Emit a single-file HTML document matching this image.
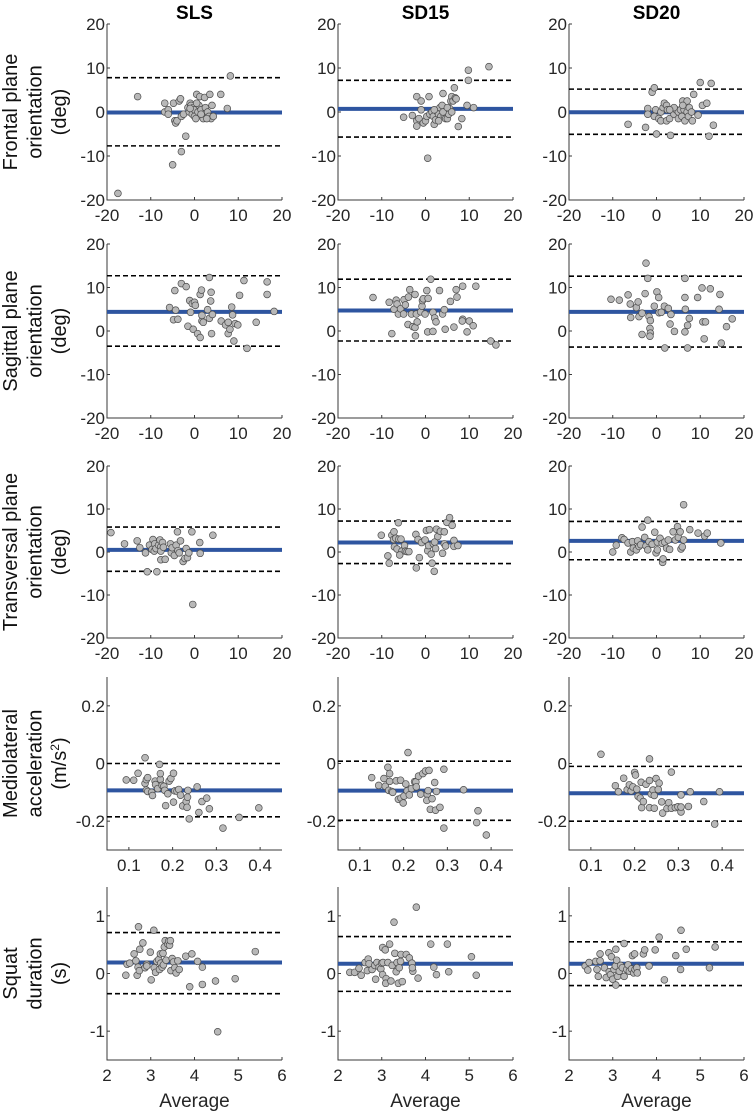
<!DOCTYPE html>
<html><head><meta charset="utf-8"><style>
html,body{margin:0;padding:0;background:#fff}
svg{display:block;font-family:"Liberation Sans",Arial,sans-serif}
</style></head><body>
<svg id="chart" width="755" height="1113" viewBox="0 0 755 1113" xmlns="http://www.w3.org/2000/svg"></svg>
<script>
// ---------- data ----------
const colTitles = ["SLS","SD15","SD20"];
const rowLabels = [["Frontal plane","orientation","(deg)"],["Sagittal plane","orientation","(deg)"],["Transversal plane","orientation","(deg)"],["Mediolateral","acceleration","(m/s2)"],["Squat","duration","(s)"]];
const angTicks = [-20,-10,0,10,20];
const accYTicks = [-0.2,0,0.2];
const accXTicks = [0.1,0.2,0.3,0.4];
const durYTicks = [-1,0,1];
const durXTicks = [2,3,4,5,6];
const means  = [-0.1,0.7,-0.07, 4.4,4.7,4.4, 0.5,2.2,2.6, -0.093,-0.094,-0.103, 0.19,0.17,0.17];
const uppers = [7.8,7.2,5.2, 12.7,11.9,12.6, 5.8,7.2,7.1, 0,0.008,-0.01, 0.71,0.64,0.55];
const lowers = [-7.7,-5.7,-5.07, -3.5,-2.3,-3.7, -4.5,-2.7,-1.8, -0.185,-0.197,-0.2, -0.35,-0.31,-0.21];

const slsFrontal = [[-17.5,-18.5],[-13,3.5],[-6.8,2],[-6.8,0],[-6,0.5],[-6,-0.5],[-4.8,2],[-4.5,-2],[-4.3,-2.5],[-4,-2],[-3.5,2.5],[-3.2,3],[-3,-1],[-3,-9],[-5,-12],[-2.5,-0.5],[-2,-5.5],[-1.5,1],[-1.2,0],[-1,2],[-0.8,1.5],[-0.5,-0.5],[-0.3,1],[0,0.5],[0,-1],[0.3,-1.5],[0.5,4],[0.8,0],[1,1.5],[1.2,3.5],[1.5,0.5],[2,-0.5],[2,-1.5],[2.3,3.3],[2.5,1],[3,-0.5],[3,0],[3.3,-1],[3.5,4],[3.8,-1.5],[4,1.5],[4.3,-1],[6,4],[7.5,0.8],[8.2,8.2],[0.5,2],[-1,0.8],[1.5,-0.5],[2.8,-1.5]];
const sd15Frontal = [[-5,-1.2],[-3,-0.8],[-2,3.5],[-2,-2],[-2,-3.2],[-1.5,-1.5],[-1,2.5],[-1,0.5],[-0.5,-2.5],[0,-2],[0.3,-1],[0.8,3.5],[0.5,-10.5],[1,-0.5],[1.5,0],[1.8,-1],[2,-2.8],[2.3,-1.8],[2.7,0],[3,-0.5],[3.3,1],[3.5,-1],[3.8,1.5],[4,4.2],[4.3,-0.8],[4.6,-1.5],[5,-1.5],[5.3,-0.5],[5.5,0.8],[5.8,2.5],[6,3.5],[6.3,2.5],[6.6,5.5],[6.8,3.2],[7,3],[7.5,-3.3],[8.3,-1.5],[9.5,1.5],[9.8,7.2],[9.8,9.5],[11,1],[14.5,10.3],[4,0],[5,1],[2,0.5],[3,-2],[6,0]];
const sd20Frontal = [[-6.5,-2.8],[-2.5,-3.5],[-2,0.8],[-2,-0.5],[-1,4.5],[-0.5,5.5],[-0.2,0.5],[-0.5,-1],[0,-5],[0.5,-1.5],[1,0],[1,-2],[1.5,1],[1.8,2],[2.3,1.5],[2.5,0.5],[2.3,-2],[3,-1.5],[3.2,-5.3],[3.5,0.5],[4,-0.5],[4.5,0.5],[5,0],[5,-1.5],[5.5,0.5],[5.8,-1],[6,2.5],[6.3,0.5],[6.5,-2],[7,0],[7,2.5],[7.3,-1],[7.5,1],[8,0],[8.2,-2],[8.5,4],[9.5,-0.7],[10.5,1.5],[11.5,2],[12.5,6.5],[13,-3],[12,-5.5],[10,6.7],[4,1],[6,1.5],[3,0.5]];
const slsSagittal = [[-5.7,5.4],[-4.5,9.3],[-4.3,4.8],[-4.8,2.6],[-3.8,2.7],[-3,10.9],[-1.9,10.2],[-1.5,1.1],[-1.1,7],[-0.9,4.3],[-0.5,6.3],[0,6.6],[0.2,5.9],[-0.3,0.4],[0.7,-0.6],[1.3,-1.5],[1.3,8.4],[1.6,9.4],[1.7,2.3],[2,2],[1.7,3.6],[3,4.9],[3.4,2.9],[3.4,12.3],[3.7,6.9],[3.8,8.9],[4.1,3.8],[3.9,-0.6],[6.1,2.3],[7.1,1.4],[7.7,2],[7.7,-0.6],[8.5,5.5],[8.7,3.7],[8.1,0.4],[9,-2.3],[9.3,1.7],[9.9,1.4],[10.3,8.2],[11.3,11.6],[12,-4],[14.1,2],[16.6,11.3],[16.6,8.4],[18.2,4.5]];
const sd15Sagittal = [[-12,7.7],[-8.3,6.6],[-7.7,-0.6],[-7.2,5.0],[-6.7,7.1],[-6.5,6.2],[-6.2,3.9],[-5.7,5.1],[-4.9,7.2],[-4.6,6.0],[-5,3.9],[-4,1.5],[-3.9,7.8],[-3.6,9.5],[-3.2,3.9],[-2.9,1],[-2.4,8.4],[-2.4,0.8],[-2.3,-1.1],[-2.1,3.9],[-1.9,2.1],[-1.1,4.4],[-0.8,5.7],[-0.7,7],[-0.5,7.4],[-0.1,3.9],[0.3,9.3],[0.6,7.5],[0.5,-0.2],[1.7,-0.1],[1.2,11.9],[1.7,4.3],[2.1,3],[2.4,2.1],[3.2,9.3],[3.9,3.9],[4.3,4.9],[4.5,0.4],[5.7,6.8],[6.5,0.9],[7.2,7.8],[7,9.5],[8.5,10.3],[8.5,2.7],[8.4,2.3],[9.5,-0.2],[10,2.3],[10.9,1.2],[11.5,10.3],[14.9,-2.3],[16.1,-3.2]];
const sd20Sagittal = [[-10.4,7.3],[-8.5,7.1],[-6.5,8.3],[-6,6.2],[-5.9,3.1],[-4.6,5.4],[-4.2,6.7],[-4,3.3],[-3.3,4.1],[-3.3,-0.8],[-2.6,8.6],[-2.4,15.6],[-2,12.1],[-1.7,3.3],[-1.4,2.4],[-1.5,0.6],[-1.4,-0.5],[-1.5,-1.2],[-0.5,5.7],[0.1,9],[0.5,7.7],[0.6,4.2],[1.1,4.3],[1.8,5.7],[2.7,5.2],[3.3,3.8],[3.1,1.6],[1.9,-3.9],[4.1,-0.1],[6.5,12.1],[6.5,7.7],[6.6,5],[6.5,-0.2],[7.1,-3.9],[7.1,1.3],[7.5,2.9],[9.4,7.7],[10.4,9.9],[10.6,2.1],[11.2,2.1],[12.3,9.7],[10.9,-1.8],[14.3,5],[14.5,8.4],[14.8,-2.8],[16,1],[17.3,2.8]];
const slsTransversal = [[-19.1,4.5],[-16,1.9],[-13.1,2.6],[-12.5,1],[-11.2,-0.2],[-10.8,-4.6],[-10.3,1.6],[-9.7,0.6],[-9.5,2.9],[-9.1,1.9],[-9.2,0.2],[-8.8,0.8],[-8.6,-4.6],[-8.2,1.6],[-7.9,2.8],[-7.7,1.2],[-7.7,0.2],[-7.3,2.2],[-7.1,1.1],[-7.7,-1.8],[-6.7,-1.7],[-5.5,1.9],[-5.3,-0.2],[-5.1,1],[-4.6,-0.8],[-4.2,1.6],[-3.9,4.7],[-3.8,0.3],[-3.5,-0.2],[-3.2,2.6],[-2.6,-2.2],[-2.2,-1.5],[-1.9,0.8],[-1.6,-1.3],[-1.3,-0.2],[-0.6,4.7],[-0.4,-12.2],[1.2,2.2],[1.3,-0.3],[4.2,3.9]];
const sd15Transversal = [[-10.1,3.9],[-8.6,-0.9],[-8.3,-2.6],[-7.7,3.9],[-7.2,4.7],[-7.3,2.9],[-6.8,3.2],[-7.1,1.2],[-6.2,6.8],[-6.1,3],[-6.5,0.7],[-5.6,3],[-5.4,0.2],[-5.9,-0.7],[-4.8,1.5],[-4.6,0.2],[-4.2,0.1],[-3.8,0.1],[-2.2,4.1],[-2.1,-3.7],[-1.7,2.9],[-1.4,-1.3],[-0.9,2.2],[-0.1,2.8],[0.2,5],[0.5,0.3],[0.9,5.2],[0.7,1.5],[1.3,-0.5],[1.5,-2.6],[1.8,1.9],[2,-4.5],[2.1,2.3],[2.3,0.8],[2.5,5.3],[2.8,3.6],[3.4,4.8],[4.3,4.7],[3.9,-0.3],[4.3,1.9],[4.6,1.4],[4.9,6.9],[5.5,8],[6.1,6.2],[6.5,2.7],[6.5,1.3],[7.4,1.5]];
const sd20Transversal = [[-10,0],[-9.2,1.6],[-7.9,3.3],[-7.4,2.9],[-6.5,2.1],[-5.9,0],[-5.5,2.4],[-5.3,0.9],[-4.6,0.5],[-4.3,2.6],[-4,1.3],[-3.6,1.7],[-3.3,5.8],[-2.7,3.4],[-2.4,1.4],[-2,0.5],[-1.7,2.4],[-2,7.4],[-1,1.8],[-0.4,4.6],[-0.1,-0.2],[0.2,0.5],[0.2,2.3],[0.8,3.2],[1.3,2],[1.4,-2.4],[1.5,-1.6],[1.9,2.3],[2.3,0.9],[2.7,2.8],[3,0.6],[3.8,4.7],[4.3,2.8],[4.8,5.9],[5,3.4],[5.4,4.7],[5.6,0.7],[5.9,1.2],[6.2,2.8],[6.2,11],[7.6,5.2],[9.5,4.4],[11,3.7],[11.6,4.4],[14.7,2.1]];
const slsAccel = [[0.094,-0.057],[0.111,-0.058],[0.121,-0.034],[0.137,0.02],[0.137,-0.069],[0.14,-0.056],[0.14,-0.092],[0.143,-0.097],[0.143,-0.049],[0.152,-0.1],[0.154,-0.111],[0.16,-0.061],[0.161,-0.073],[0.166,-0.087],[0.17,-0.003],[0.172,-0.055],[0.172,-0.035],[0.176,-0.076],[0.18,-0.079],[0.182,-0.093],[0.184,-0.146],[0.189,-0.105],[0.192,-0.061],[0.196,-0.052],[0.202,-0.034],[0.202,-0.134],[0.205,-0.095],[0.21,-0.096],[0.214,-0.09],[0.218,-0.11],[0.223,-0.147],[0.231,-0.132],[0.233,-0.152],[0.235,-0.093],[0.234,-0.117],[0.238,-0.192],[0.256,-0.081],[0.26,-0.17],[0.267,-0.132],[0.278,-0.12],[0.284,-0.157],[0.315,-0.224],[0.352,-0.187],[0.397,-0.154]];
const sd15Accel = [[0.127,-0.049],[0.143,-0.076],[0.155,-0.052],[0.158,-0.079],[0.164,-0.013],[0.168,-0.035],[0.168,-0.062],[0.166,-0.093],[0.173,-0.097],[0.175,-0.1],[0.183,-0.06],[0.193,-0.058],[0.188,-0.124],[0.194,-0.12],[0.199,-0.137],[0.201,-0.113],[0.205,-0.071],[0.208,-0.095],[0.21,0.038],[0.213,-0.109],[0.218,-0.087],[0.225,-0.063],[0.228,-0.064],[0.229,-0.081],[0.234,-0.044],[0.239,-0.106],[0.244,-0.035],[0.25,-0.026],[0.258,-0.024],[0.254,-0.107],[0.256,-0.094],[0.253,-0.128],[0.265,-0.122],[0.261,-0.159],[0.271,-0.066],[0.273,-0.162],[0.275,-0.097],[0.283,-0.152],[0.292,-0.02],[0.292,-0.224],[0.337,-0.091],[0.367,-0.205],[0.37,-0.164],[0.389,-0.248]];
const sd20Accel = [[0.123,0.032],[0.156,-0.077],[0.163,-0.098],[0.175,-0.051],[0.183,-0.091],[0.188,-0.074],[0.192,-0.095],[0.196,-0.081],[0.2,-0.031],[0.202,-0.04],[0.205,-0.089],[0.208,-0.114],[0.213,-0.12],[0.215,-0.065],[0.216,-0.153],[0.22,-0.132],[0.226,-0.072],[0.234,-0.153],[0.234,0.016],[0.234,-0.059],[0.238,-0.106],[0.242,-0.092],[0.245,-0.111],[0.245,-0.155],[0.249,-0.052],[0.256,-0.068],[0.254,-0.09],[0.262,-0.133],[0.264,-0.172],[0.274,-0.156],[0.278,-0.136],[0.284,-0.03],[0.284,-0.155],[0.293,-0.153],[0.299,-0.15],[0.306,-0.168],[0.306,-0.109],[0.306,-0.151],[0.323,-0.149],[0.327,-0.098],[0.358,-0.132],[0.383,-0.21],[0.394,-0.098]];
const slsDuration = [[2.43,-0.03],[2.46,0.16],[2.52,0.18],[2.62,0.34],[2.66,0.22],[2.69,-0.03],[2.71,0.11],[2.72,0.81],[2.75,0.42],[2.74,0.05],[2.82,0.53],[2.87,0.1],[2.91,0.16],[2.91,0.13],[2.99,0.37],[3.01,-0.11],[3.07,0.75],[3.08,0.1],[3.11,0.02],[3.14,0.21],[3.18,0.24],[3.2,0.07],[3.22,0.34],[3.23,0.18],[3.26,0.11],[3.28,0.35],[3.29,0.15],[3.31,0.46],[3.33,0.57],[3.35,0.23],[3.39,0.51],[3.41,0.56],[3.43,0.49],[3.45,0.57],[3.46,0.05],[3.49,0.26],[3.52,0.2],[3.55,0.1],[3.58,0.01],[3.62,0.22],[3.65,0.07],[3.8,0.3],[3.89,-0.23],[3.94,0.34],[4.07,0.21],[4.18,0.11],[4.18,-0.19],[4.48,-0.13],[4.53,-1.01],[4.93,-0.09],[5.39,0.38]];
const sd15Duration = [[2.27,0.02],[2.38,0.02],[2.48,0.09],[2.53,-0.03],[2.62,0.19],[2.67,0.05],[2.69,0.25],[2.71,0.17],[2.78,0.07],[2.84,0.14],[2.86,-0.1],[2.89,0.19],[2.94,0.11],[2.98,0.08],[3.02,0.45],[3,0.18],[3.02,-0.02],[3.03,0.19],[3.08,0.41],[3.1,-0.09],[3.09,-0.17],[3.14,0.19],[3.18,0.51],[3.21,-0.13],[3.24,0.14],[3.28,0.89],[3.3,0.35],[3.33,0.03],[3.35,0.19],[3.38,-0.17],[3.4,0.1],[3.44,0.33],[3.43,0.21],[3.47,-0.14],[3.56,0.33],[3.63,0.27],[3.69,0.18],[3.71,0.04],[3.7,0.1],[3.79,1.15],[3.83,-0.08],[4.12,0.51],[4.19,0.11],[4.25,-0.02],[4.5,0.51],[4.53,0.03],[5.05,0.29],[5.16,-0.03]];
const sd20Duration = [[2.37,0.13],[2.43,0.06],[2.46,0.19],[2.61,0.21],[2.64,0.07],[2.67,-0.05],[2.71,0.34],[2.71,0.22],[2.81,0.1],[2.85,-0.07],[2.91,0.36],[2.92,0.03],[2.95,-0.02],[2.97,0.29],[3,-0.1],[3.03,0.07],[3.06,0.13],[3.07,0.42],[3.09,0.23],[3.07,-0.2],[3.11,-0.05],[3.15,0.04],[3.18,0.14],[3.22,0.1],[3.26,0.52],[3.26,-0.05],[3.32,0.07],[3.35,0.15],[3.38,0.04],[3.43,0.08],[3.45,0.31],[3.48,0.01],[3.5,0.34],[3.51,0.07],[3.55,0.1],[3.56,0.01],[3.7,0.34],[3.73,0.41],[3.83,0.13],[3.97,0.41],[4.06,0.63],[4.18,-0.11],[4.44,0.31],[4.55,0.07],[4.68,0.42],[4.56,0.75],[5.21,0.1],[5.34,0.46]];

const panelData = [slsFrontal,sd15Frontal,sd20Frontal,slsSagittal,sd15Sagittal,sd20Sagittal,slsTransversal,sd15Transversal,sd20Transversal,slsAccel,sd15Accel,sd20Accel,slsDuration,sd15Duration,sd20Duration];
const panelNames = ["sls-frontal","sd15-frontal","sd20-frontal","sls-sagittal","sd15-sagittal","sd20-sagittal","sls-transversal","sd15-transversal","sd20-transversal","sls-accel","sd15-accel","sd20-accel","sls-duration","sd15-duration","sd20-duration"];

// ---------- layout ----------
const NS = "http://www.w3.org/2000/svg";
const svg = document.getElementById("chart");
const colLeft = [107,338,569];
const W = 175;
const rowTop = [24,244,466,677,887];
const rowBot = [200,418,638,850,1060];
const xDom = [[-20,20],[-20,20],[-20,20],[0.05,0.45],[2,6]];
const yDom = [[-20,20],[-20,20],[-20,20],[-0.3,0.3],[-1.5,1.5]];
const xTickSets = [angTicks,angTicks,angTicks,accXTicks,durXTicks];
const yTickSets = [angTicks,angTicks,angTicks,accYTicks,durYTicks];

function el(tag, attrs, parent){
  const e = document.createElementNS(NS, tag);
  for (const k in attrs) e.setAttribute(k, attrs[k]);
  (parent||svg).appendChild(e);
  return e;
}
function fmt(v){ return (Math.round(v*10)/10).toString(); }

colTitles.forEach((t,c)=>{
  const tx = el("text",{x:colLeft[c]+W/2,y:19,"text-anchor":"middle","font-size":"19","font-weight":"bold",fill:"#000"});
  
  
  tx.textContent = t;
});

rowLabels.forEach((lines,r)=>{
  const cy = (rowTop[r]+rowBot[r])/2;
  const g = el("g",{});
  
  
  lines.forEach((ln,i)=>{
    const bx = 17 + i*24.5;
    const t = el("text",{x:0,y:0,"text-anchor":"middle","font-size":"20",fill:"#111",transform:`translate(${bx},${cy}) rotate(-90)`},g);
    if (ln === "(m/s2)") {
      t.appendChild(document.createTextNode("(m/s"));
      const sup = el("tspan",{"baseline-shift":"super","font-size":"12"},t);
      sup.textContent = "2";
      t.appendChild(document.createTextNode(")"));
    } else t.textContent = ln;
  });
});

for (let r=0;r<5;r++){
  for (let c=0;c<3;c++){
    const idx = r*3+c;
    const L = colLeft[c], R = L+W, T = rowTop[r], B = rowBot[r];
    const [x0,x1] = xDom[r], [y0,y1] = yDom[r];
    const sx = v => L + (v-x0)/(x1-x0)*W;
    const sy = v => B - (v-y0)/(y1-y0)*(B-T);
    const g = el("g",{});
    
    

    const ax = el("path",{d:`M${L},${T} L${L},${B} L${R},${B}`,fill:"none",stroke:"#3a3a3a","stroke-width":"1"},g);
    
    

    yTickSets[r].forEach(v=>{
      const y = sy(v);
      el("line",{x1:L,x2:L+3,y1:y,y2:y,stroke:"#3a3a3a","stroke-width":"1"},g);
      const t = el("text",{x:L-2,y:y+6,"text-anchor":"end","font-size":"17",fill:"#262626"},g);
      
      
      t.textContent = fmt(v);
    });
    xTickSets[r].forEach(v=>{
      const x = sx(v);
      el("line",{x1:x,x2:x,y1:B,y2:B-3,stroke:"#3a3a3a","stroke-width":"1"},g);
      const t = el("text",{x:x,y:B+21,"text-anchor":"middle","font-size":"17",fill:"#262626"},g);
      
      
      t.textContent = fmt(v);
    });

    [uppers[idx],lowers[idx]].forEach((v,k)=>{
      const ln = el("line",{x1:L,x2:R,y1:sy(v),y2:sy(v),stroke:"#000","stroke-width":"1.6","stroke-dasharray":"5,3"},g);
      
      
    });
    const mline = el("line",{x1:L,x2:R,y1:sy(means[idx]),y2:sy(means[idx]),stroke:"#2e55a0","stroke-width":"4"},g);
    
    

    panelData[idx].forEach(p=>{
      const cpt = el("circle",{cx:sx(p[0]),cy:sy(p[1]),r:"3.4",fill:"#b8b8b8",stroke:"#4d4d4d","stroke-width":"0.7"},g);
      
      
    });

    if (r===4){
      const t = el("text",{x:L+W/2,y:1107,"text-anchor":"middle","font-size":"19",fill:"#262626"},g);
      
      
      t.textContent = "Average";
    }
  }
}
</script>
</body></html>
